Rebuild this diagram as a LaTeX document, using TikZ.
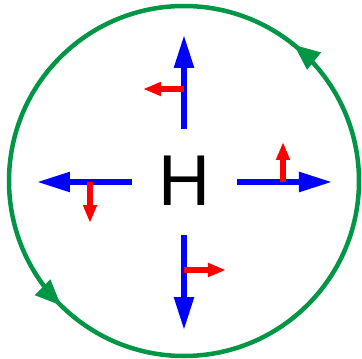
\documentclass[tikz,border=0pt]{standalone}
\usepackage{fontspec}
\setmainfont{Liberation Sans}
\usetikzlibrary{arrows.meta,decorations.markings}
\definecolor{loopgreen}{RGB}{0,150,70}

\begin{document}
\begin{tikzpicture}[x=1pt, y=1pt,
    force/.style={blue, line width=5.5pt, -{Triangle[length=33pt, width=19pt]}},
    deflect/.style={red, line width=5.5pt, -{Triangle[length=18pt, width=13pt]}}]
  % Setup
  \def\R{175}
  \def\gap{52}
  \def\tipd{146}
  \useasboundingbox (-184,-178) rectangle (178,181);

  % Circulation
  \draw[loopgreen, line width=4.5pt,
    decoration={markings,
      mark=at position 0.142 with {\arrow{Triangle[length=26pt, width=21pt]}},
      mark=at position 0.626 with {\arrow{Triangle[length=26pt, width=21pt]}}},
    postaction={decorate}]
    (0,0) circle[radius=\R pt];

  % Centre
  \node[font=\fontsize{72}{72}\selectfont, inner sep=0pt] (h) at (0,0) {H};

  % Outward arrows
  \coordinate (nA) at (0,\gap);    \coordinate (nB) at (0,\tipd);
  \coordinate (sA) at (0,-\gap-2); \coordinate (sB) at (0,-\tipd-3);
  \coordinate (wA) at (-\gap,-1);  \coordinate (wB) at (-\tipd-1,-1);
  \coordinate (eA) at (\gap+1,-1); \coordinate (eB) at (\tipd+2,-1);
  \draw[force] (nA) -- (nB);
  \draw[force] (sA) -- (sB);
  \draw[force] (wA) -- (wB);
  \draw[force] (eA) -- (eB);

  % Turning arrows
  \coordinate (nC) at (0,92);   \coordinate (nD) at (-41,92);
  \coordinate (wC) at (-94,-1); \coordinate (wD) at (-94,-42);
  \coordinate (eC) at (99,-1);  \coordinate (eD) at (99,39);
  \coordinate (sC) at (0,-89);  \coordinate (sD) at (42,-89);
  \draw[deflect] (nC) -- (nD);
  \draw[deflect] (wC) -- (wD);
  \draw[deflect] (eC) -- (eD);
  \draw[deflect] (sC) -- (sD);

\end{tikzpicture}
\end{document}
